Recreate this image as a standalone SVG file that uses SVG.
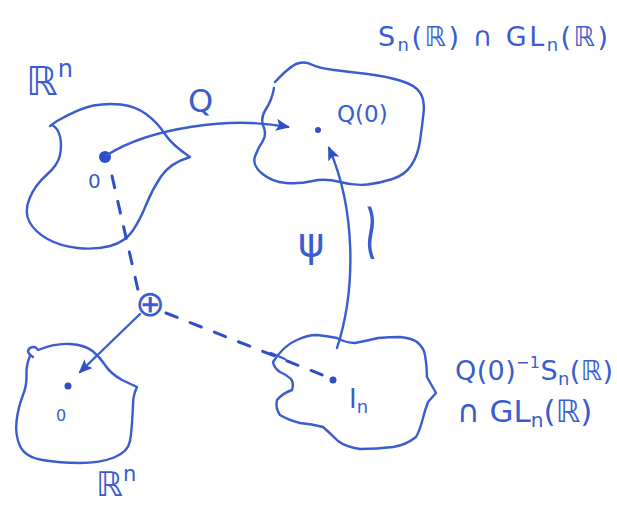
<svg xmlns="http://www.w3.org/2000/svg" width="617" height="506" viewBox="0 0 617 506">
<style>
.ink{fill:none;stroke:#3a5ccf;stroke-width:2.4;stroke-linecap:round;stroke-linejoin:round}
.dash{fill:none;stroke:#2f4fc8;stroke-width:3;stroke-linecap:round;stroke-dasharray:12 14}
.dot{fill:#2f4fc8}
.t{fill:#3a5ccf;font-family:"DejaVu Sans","Noto Sans",sans-serif}
</style>
<defs>
<marker id="ah" viewBox="0 0 14 12" refX="12" refY="6" markerWidth="14" markerHeight="12" markerUnits="userSpaceOnUse" orient="auto">
<path d="M0,0 L14,6 L0,12 L3,6 Z" fill="#2f4fc8"/>
</marker>
</defs>
<rect width="617" height="506" fill="#ffffff"/>

<g id="domain-top">
<path class="ink" d="M50,126 L57,121 Q80,108 93.5,105.5 Q107,103 121,104.5 Q135,106 146,114 Q157,122 164.5,133.5 Q172,145 190,157 Q170,163 161,176.5 Q152,190 146,205 Q140,220 132.5,231 Q125,242 110,246 Q95,250 77.5,248 Q60,246 47.5,239 Q35,232 29.5,222 Q24,212 29.5,198.5 Q35,185 46.5,175 Q58,165 60,155 Q62,145 60,136.5 Q58,128 52,125"/>
<circle class="dot" cx="105" cy="157" r="6"/>
<text class="t" x="88" y="188" font-size="20">0</text>
<text class="t" x="26" y="95" font-size="40">ℝ<tspan font-size="24" dy="-18">n</tspan></text>
</g>

<g id="codomain-top">
<path class="ink" d="M275,82 Q290,66 297.5,63.5 Q305,61 311.5,64.5 Q318,68 334,70 Q350,72 367.5,74 Q385,76 400,80.5 Q415,85 420,92.5 Q425,100 423.5,113.5 Q422,127 420,141 Q418,155 411.5,165 Q405,175 392.5,179 Q380,183 367.5,184.5 Q355,186 340,182 Q325,178 312.5,181 Q300,184 286,183 Q272,182 262,173.5 Q252,165 255,156.5 Q258,148 262.5,141.5 Q267,135 263.5,126.5 Q260,118 266,109 Q272,100 274,88"/>
<circle class="dot" cx="318" cy="130" r="3"/>
<text class="t" x="337" y="122" font-size="23">Q(0)</text>
<text class="t" x="378" y="46" font-size="27" textLength="230">S<tspan font-size="18" dy="5">n</tspan><tspan dy="-5">(ℝ) ∩ GL</tspan><tspan font-size="18" dy="5">n</tspan><tspan dy="-5">(ℝ)</tspan></text>
</g>

<g id="domain-bottom">
<path class="ink" d="M33,357 Q25,352 30,348 Q35,345 38,350 Q55,343 70,344 Q85,345 92.5,351 Q100,357 105,365 Q110,373 122,380 L137,387 Q133,395 133,405 Q132,430 130,441 Q128,452 114,457.5 Q100,463 80,463 Q60,463 42.5,460 Q25,457 20,446 Q15,435 16.5,421.5 Q18,408 22.5,396.5 Q27,385 26.5,375 Q26,365 30,356"/>
<circle class="dot" cx="68" cy="386" r="3.5"/>
<text class="t" x="56" y="421" font-size="16">0</text>
<text class="t" x="96" y="496" font-size="34">ℝ<tspan font-size="21" dy="-15">n</tspan></text>
</g>

<g id="codomain-bottom">
<path class="ink" d="M273,362 Q284,345 297,340 Q307,335 317,335 Q327,336 337,338 Q346,343 355,343 Q366,341 378,338 Q389,337 400,337 Q411,338 417,342 Q424,348 425,355 Q427,366 427,377 L436,393 L428,402 Q425,410 423,418 Q420,430 416,437 Q406,445 393,447 Q377,449 360,449 Q346,447 338,441 Q330,433 323,427 Q312,424 300,423 Q288,420 280,415 Q275,408 277,400 Q283,393 292,390 Q294,383 291,379 Q287,375 280,372 Q274,368 273,362 Z"/>
<path class="ink" d="M271,353 L285,359"/>
<circle class="dot" cx="333" cy="380" r="3.5"/>
<text class="t" x="349" y="408" font-size="26">I<tspan font-size="18" dy="5">n</tspan></text>
<text class="t" x="455" y="380" font-size="27" textLength="158">Q(0)<tspan font-size="16" dy="-12">−1</tspan><tspan dy="12">S</tspan><tspan font-size="18" dy="5">n</tspan><tspan dy="-5">(ℝ)</tspan></text>
<text class="t" x="457" y="422" font-size="31">∩ GL<tspan font-size="20" dy="5">n</tspan><tspan dy="-5">(ℝ)</tspan></text>
</g>

<g id="oplus">
<text class="t" x="150" y="316" font-size="36" text-anchor="middle">⊕</text>
</g>

<g id="connectors">
<path class="ink" d="M107,155 C150,128 230,116 288,127" marker-end="url(#ah)"/>
<text class="t" x="188" y="112" font-size="32">Q</text>
<path class="ink" d="M337,348 C356,290 356,210 329,148" marker-end="url(#ah)"/>
<text class="t" x="298" y="256" font-size="40">ψ</text>
<text class="t" transform="translate(371,259) scale(0.6,1.2)" x="0" y="0" font-size="70" text-anchor="middle">≀</text>
<path class="ink" d="M140,314 L80,372" marker-end="url(#ah)"/>
<path class="dash" d="M112,176 L138,290"/>
<path class="dash" d="M166,313 L325,376"/>
</g>
</svg>
